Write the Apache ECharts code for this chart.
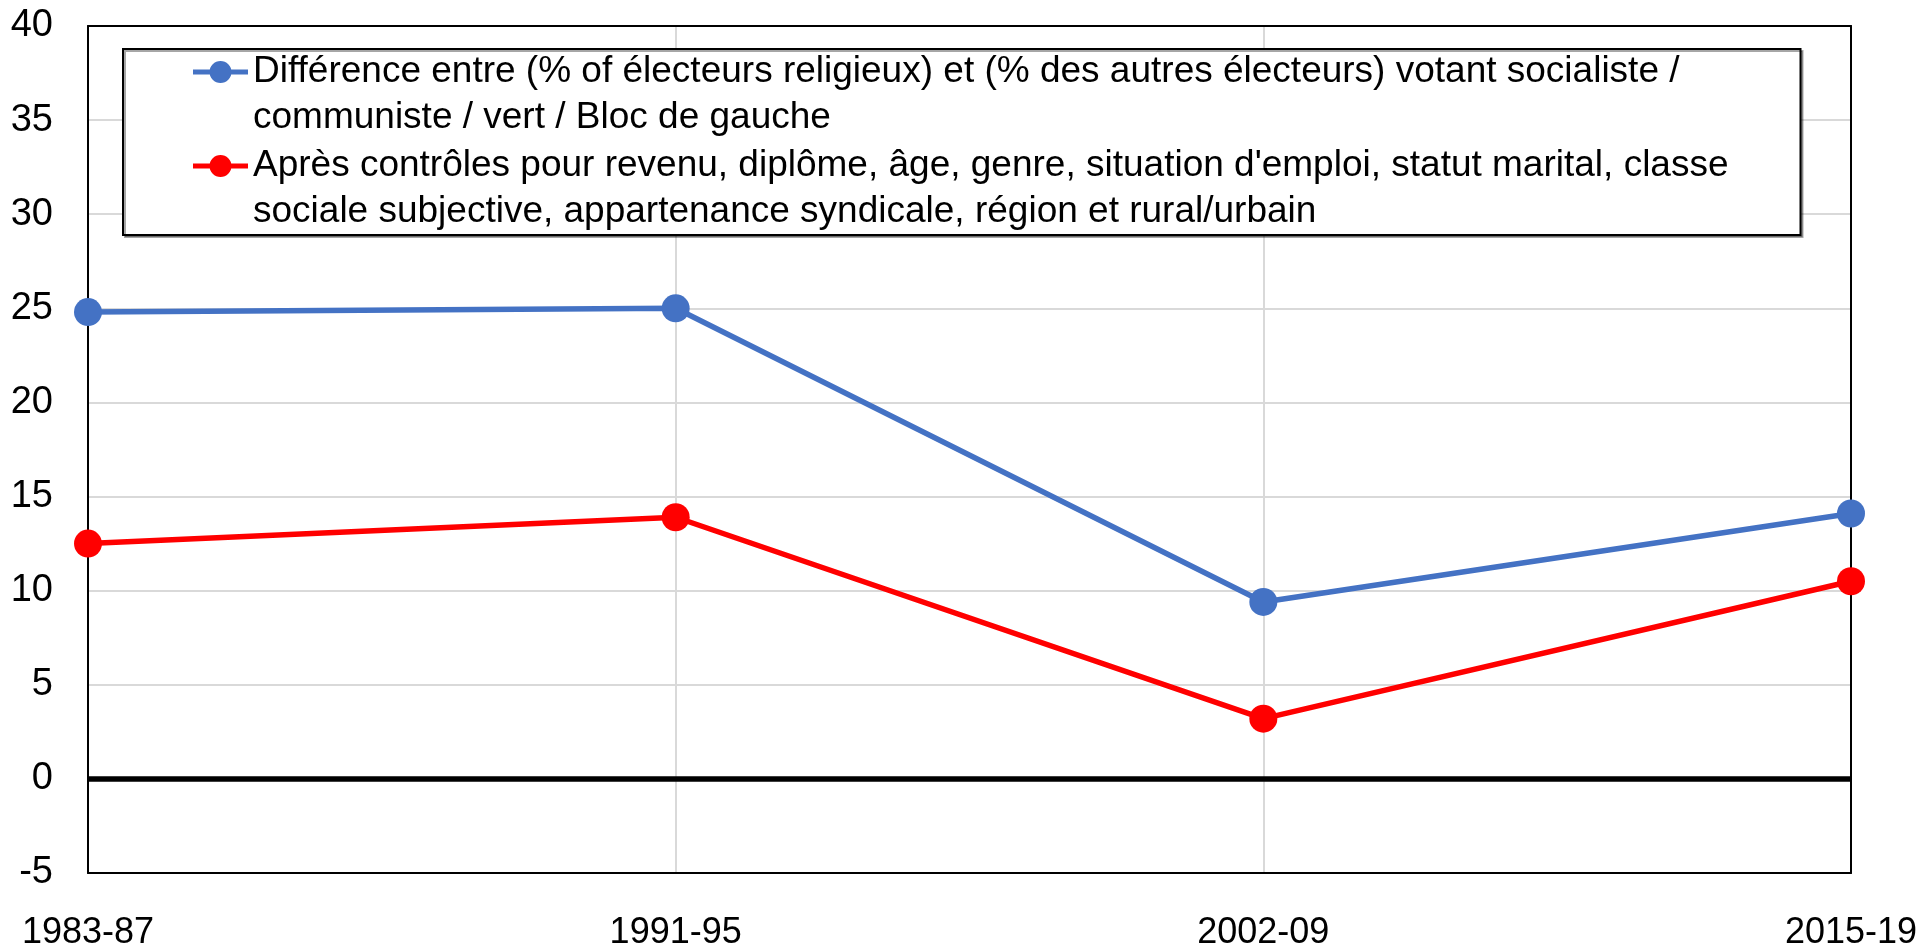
<!DOCTYPE html>
<html>
<head>
<meta charset="utf-8">
<script src="https://cdn.jsdelivr.net/npm/echarts@6/dist/echarts.min.js"></script>
<style>
html,body{margin:0;padding:0;background:#fff;width:100%;height:100%;overflow:hidden;}
#chart{width:100vw;height:100vh;}
</style>
</head>
<body>
<div id="chart"></div>
<script>
const categories = ['1983-87', '1991-95', '2002-09', '2015-19'];
const religiousGap = [24.8, 25.0, 9.4, 14.1];
const afterControls = [12.5, 13.9, 3.2, 10.5];
const seriesNames = [
  "Différence entre (% of électeurs religieux) et (% des autres électeurs) votant socialiste / communiste / vert / Bloc de gauche",
  "Après contrôles pour revenu, diplôme, âge, genre, situation d'emploi, statut marital, classe sociale subjective, appartenance syndicale, région et rural/urbain"
];
const legendLabels = [
  "Différence entre (% of électeurs religieux) et (% des autres électeurs) votant socialiste /\ncommuniste / vert / Bloc de gauche",
  "Après contrôles pour revenu, diplôme, âge, genre, situation d'emploi, statut marital, classe\nsociale subjective, appartenance syndicale, région et rural/urbain"
];
const yMin = -5, yMax = 40, yStep = 5;

const FONT = "'Liberation Sans', Arial, sans-serif";
// legend icon: line + dot placed on the first text line (box 55 x 92)
const legendIcon = 'path://M0,0 L0.001,0 L0,0.001 Z M0,92 L0.001,92 L0,91.999 Z ' +
  'M0,20.5 L55,20.5 L55,25.5 L0,25.5 Z ' +
  'M16.5,23 A11,11 0 1,1 38.5,23 A11,11 0 1,1 16.5,23 Z';

const frameLine = { show: true, onZero: false, lineStyle: { color: '#000', width: 2 } };

const chart = echarts.init(document.getElementById('chart'));
chart.setOption({
  animation: false,
  backgroundColor: '#fff',
  grid: { left: 88, right: 72, top: 26, bottom: 71 },
  legend: {
    orient: 'vertical',
    left: 123, top: 49,
    padding: [0, 72, 0, 70],
    itemWidth: 55, itemHeight: 92,
    itemGap: 2,
    icon: legendIcon,
    itemStyle: { borderWidth: 0 },
    borderColor: '#000', borderWidth: 2,
    backgroundColor: '#fff',
    shadowColor: 'rgba(0,0,0,0.35)', shadowOffsetX: 2, shadowOffsetY: 2, shadowBlur: 0,
    selectedMode: false,
    textStyle: { fontFamily: FONT, fontSize: 37, lineHeight: 46, color: '#000' },
    formatter: function (name) {
      const i = seriesNames.indexOf(name);
      return i >= 0 ? legendLabels[i] : name;
    },
    data: seriesNames
  },
  xAxis: [
    {
      type: 'category',
      data: categories,
      boundaryGap: false,
      axisLine: frameLine,
      axisTick: { show: false },
      splitLine: { show: true, lineStyle: { color: '#d9d9d9', width: 2 } },
      axisLabel: { fontFamily: FONT, fontSize: 36, color: '#000', margin: 42 }
    },
    {
      type: 'category',
      data: categories,
      position: 'top',
      boundaryGap: false,
      axisLine: frameLine,
      axisTick: { show: false },
      axisLabel: { show: false },
      splitLine: { show: false }
    }
  ],
  yAxis: [
    {
      type: 'value',
      min: yMin, max: yMax, interval: yStep,
      axisLine: frameLine,
      axisTick: { show: false },
      splitLine: { show: true, lineStyle: { color: '#d9d9d9', width: 2 } },
      axisLabel: { fontFamily: FONT, fontSize: 38, color: '#000', margin: 35 }
    },
    {
      type: 'value',
      position: 'right',
      min: yMin, max: yMax, interval: yStep,
      axisLine: frameLine,
      axisTick: { show: false },
      axisLabel: { show: false },
      splitLine: { show: false }
    }
  ],
  series: [
    {
      name: seriesNames[0],
      type: 'line',
      data: religiousGap,
      symbol: 'circle', symbolSize: 28,
      lineStyle: { color: '#4472C4', width: 5.5 },
      itemStyle: { color: '#4472C4' },
      z: 3,
      markLine: {
        silent: true,
        symbol: 'none',
        label: { show: false },
        lineStyle: { color: '#000', width: 5.5, type: 'solid' },
        data: [{ yAxis: 0 }]
      }
    },
    {
      name: seriesNames[1],
      type: 'line',
      data: afterControls,
      symbol: 'circle', symbolSize: 28,
      lineStyle: { color: '#FF0000', width: 5.5 },
      itemStyle: { color: '#FF0000' },
      z: 3
    }
  ]
});
</script>
</body>
</html>
